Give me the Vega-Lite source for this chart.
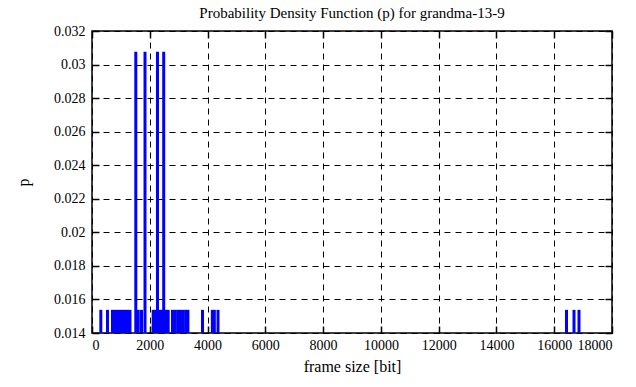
{
  "$schema": "https://vega.github.io/schema/vega-lite/v6.json",
  "autosize": "none",
  "width": 520,
  "height": 302,
  "padding": {"left": 92, "top": 31, "right": 24, "bottom": 54},
  "background": "white",
  "title": {"text": "Probability Density Function (p) for grandma-13-9", "font": "Liberation Serif", "fontSize": 15, "fontWeight": "normal", "color": "black", "offset": -12, "baseline": "bottom"},
  "config": {
    "font": "Liberation Serif",
    "view": {"stroke": "black", "strokeWidth": 1.5},
    "axis": {"labelFont": "Liberation Serif", "labelFontSize": 14, "labelFontWeight": "normal", "labelColor": "black", "titleFont": "Liberation Serif", "titleFontSize": 16, "titleFontWeight": "normal", "titleColor": "black", "domain": false, "tickColor": "black", "tickWidth": 1.5, "tickSize": -7, "gridColor": "black", "gridDash": [6, 5], "gridOpacity": 1, "gridWidth": 1, "labelOverlap": false}
  },
  "data": {"values": [
    {"size": 305, "p": 0.01538}, {"size": 537, "p": 0.01538},
    {"size": 710, "p": 0.01538}, {"size": 796, "p": 0.01538}, {"size": 883, "p": 0.01538}, {"size": 969, "p": 0.01538},
    {"size": 1056, "p": 0.01538}, {"size": 1142, "p": 0.01538}, {"size": 1229, "p": 0.01538}, {"size": 1315, "p": 0.01538},
    {"size": 1516, "p": 0.03077}, {"size": 1600, "p": 0.01538}, {"size": 1713, "p": 0.01538}, {"size": 1835, "p": 0.03077},
    {"size": 2118, "p": 0.01538}, {"size": 2198, "p": 0.01538}, {"size": 2267, "p": 0.03077}, {"size": 2354, "p": 0.01538},
    {"size": 2420, "p": 0.01538}, {"size": 2482, "p": 0.03077}, {"size": 2560, "p": 0.01538}, {"size": 2637, "p": 0.01538},
    {"size": 2787, "p": 0.01538}, {"size": 2880, "p": 0.01538}, {"size": 2970, "p": 0.01538}, {"size": 3063, "p": 0.01538},
    {"size": 3157, "p": 0.01538}, {"size": 3245, "p": 0.01538}, {"size": 3320, "p": 0.01538},
    {"size": 3825, "p": 0.01538}, {"size": 4165, "p": 0.01538}, {"size": 4235, "p": 0.01538}, {"size": 4362, "p": 0.01538},
    {"size": 16425, "p": 0.01538}, {"size": 16685, "p": 0.01538}, {"size": 16858, "p": 0.01538}
  ]},
  "layer": [
    {
      "mark": {"type": "rule", "color": "#0000ff", "strokeWidth": 3, "clip": true},
      "encoding": {
        "x": {"field": "size", "type": "quantitative", "scale": {"domain": [0, 18000], "nice": false, "zero": false},
              "axis": {"title": "frame size [bit]", "values": [0,2000,4000,6000,8000,10000,12000,14000,16000,18000], "format": "d", "labelPadding": 12, "titlePadding": 6, "grid": true, "labelOverlap": false}},
        "y": {"field": "p", "type": "quantitative", "scale": {"domain": [0.014, 0.032], "nice": false, "zero": false},
              "axis": {"title": "p", "values": [0.014,0.016,0.018,0.02,0.022,0.024,0.026,0.028,0.03,0.032], "format": "~g", "labelPadding": 14, "titlePadding": 22, "titleAngle": -90, "grid": true, "labelOverlap": false}},
        "y2": {"datum": 0.014}
      }
    },
    {
      "mark": {"type": "rule", "opacity": 0},
      "encoding": {
        "x": {"field": "size", "type": "quantitative", "axis": {"orient": "top", "labels": false, "title": null, "grid": false, "values": [0,2000,4000,6000,8000,10000,12000,14000,16000,18000]}},
        "y": {"field": "p", "type": "quantitative", "axis": {"orient": "right", "labels": false, "title": null, "grid": false, "values": [0.014,0.016,0.018,0.02,0.022,0.024,0.026,0.028,0.03,0.032]}}
      }
    }
  ],
  "resolve": {"axis": {"x": "independent", "y": "independent"}}
}
